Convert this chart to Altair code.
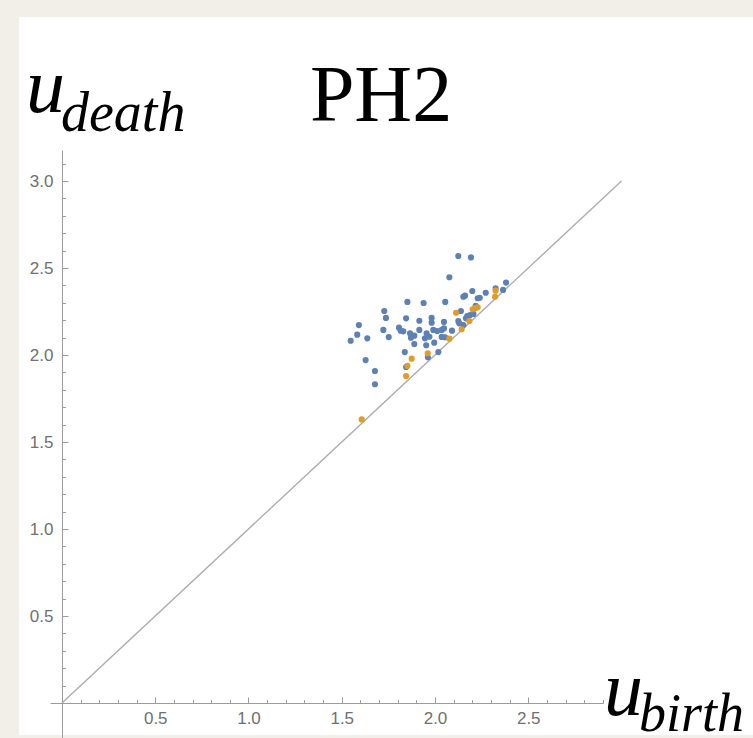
import altair as alt
import pandas as pd

# ---- data ----
blue_x = [2.125, 2.193, 2.077, 2.381, 2.365, 2.325, 2.272, 2.200, 2.161, 2.152,
          2.240, 2.229, 2.055, 1.939, 1.852, 1.728, 1.737, 1.845, 1.916, 1.982,
          1.982, 2.048, 2.139, 2.125, 2.130, 2.173, 2.188, 2.206, 1.592, 1.583,
          1.548, 1.637, 1.723, 1.752, 1.807, 1.816, 1.830, 1.866, 1.871, 1.889,
          1.916, 1.955, 1.946, 1.970, 1.991, 2.012, 2.036, 2.048, 2.091, 1.889,
          1.953, 1.996, 1.838, 2.018, 1.962, 1.628, 1.678, 1.678, 1.845, 2.036,
          2.054, 2.152, 2.166, 2.218]
blue_y = [2.569, 2.561, 2.447, 2.416, 2.374, 2.383, 2.358, 2.368, 2.341, 2.335,
          2.329, 2.326, 2.305, 2.299, 2.305, 2.253, 2.213, 2.211, 2.197, 2.213,
          2.186, 2.190, 2.253, 2.195, 2.182, 2.224, 2.230, 2.236, 2.172, 2.117,
          2.082, 2.096, 2.144, 2.103, 2.157, 2.140, 2.136, 2.125, 2.099, 2.111,
          2.144, 2.125, 2.096, 2.105, 2.144, 2.138, 2.144, 2.153, 2.140, 2.063,
          2.056, 2.071, 2.017, 2.017, 1.987, 1.971, 1.908, 1.832, 1.931, 2.104,
          2.102, 2.172, 2.211, 2.282]
orange_x = [2.113, 2.202, 2.216, 2.229, 2.325, 2.322, 2.184, 2.143, 2.077,
            1.961, 1.875, 1.852, 1.845, 1.607]
orange_y = [2.243, 2.263, 2.270, 2.274, 2.370, 2.335, 2.195, 2.148, 2.094,
            2.010, 1.979, 1.938, 1.879, 1.630]
diag_x = [0, 3]
diag_y = [0, 3]

x_major = [0.5, 1.0, 1.5, 2.0, 2.5]
y_major = [0.5, 1.0, 1.5, 2.0, 2.5, 3.0]
x_minor = [0.1, 0.2, 0.3, 0.4, 0.6, 0.7, 0.8, 0.9, 1.1, 1.2, 1.3, 1.4, 1.6, 1.7,
           1.8, 1.9, 2.1, 2.2, 2.3, 2.4, 2.6, 2.7, 2.8, 2.9]
y_minor = [0.1, 0.2, 0.3, 0.4, 0.6, 0.7, 0.8, 0.9, 1.1, 1.2, 1.3, 1.4, 1.6, 1.7,
           1.8, 1.9, 2.1, 2.2, 2.3, 2.4, 2.6, 2.7, 2.8, 2.9, 3.1]

title_text = "PH2"
ylab_main, ylab_sub = "u", "death"
xlab_main, xlab_sub = "u", "birth"

# ---- layout ----
W, H = 553, 588
PAD_L, PAD_T = 50, 150
GRAY = "#9c9c9c"
LABEL_GRAY = "#707070"
BLUE = "#5e81b5"
ORANGE = "#e19c24"

xs = alt.Scale(domain=[-0.0643, 2.9008], nice=False, zero=False)
ys = alt.Scale(domain=[-0.2011, 3.1782], nice=False, zero=False)

common = dict(title=None, grid=False, zindex=2)

ax_x_major = alt.Axis(orient="top", offset=-553, values=x_major, labels=False,
                      ticks=True, tickSize=6, tickColor=GRAY, tickWidth=1,
                      domain=True, domainColor=GRAY, domainWidth=1, **common)
ax_x_minor = alt.Axis(orient="top", offset=-553, values=x_minor, labels=False,
                      ticks=True, tickSize=3.5, tickColor=GRAY, tickWidth=1,
                      domain=False, **common)
ax_x_labels = alt.Axis(orient="bottom", offset=-35, values=x_major, ticks=False,
                       tickSize=0, domain=False, labelPadding=7, format=".1f",
                       labelFont="Liberation Sans", labelFontSize=17,
                       labelColor=LABEL_GRAY, **common)

ax_y_major = alt.Axis(orient="right", offset=-541, values=y_major, labels=False,
                      ticks=True, tickSize=6, tickColor=GRAY, tickWidth=1,
                      domain=True, domainColor=GRAY, domainWidth=1, **common)
ax_y_minor = alt.Axis(orient="right", offset=-541, values=y_minor, labels=False,
                      ticks=True, tickSize=3.5, tickColor=GRAY, tickWidth=1,
                      domain=False, **common)
ax_y_labels = alt.Axis(orient="left", offset=-12, values=y_major, ticks=False,
                       tickSize=0, domain=False, labelPadding=9, format=".1f",
                       labelFont="Liberation Sans", labelFontSize=17,
                       labelColor=LABEL_GRAY, **common)

one = pd.DataFrame({"k": [0]})

panel = alt.Chart(one).mark_rect(color="white", clip=False).encode(
    x=alt.value(19 - PAD_L), x2=alt.value(753 - PAD_L),
    y=alt.value(17 - PAD_T), y2=alt.value(735 - PAD_T))

diag_df = pd.DataFrame({"x": diag_x, "y": diag_y})
diag = alt.Chart(diag_df).mark_line(color="#adadad", strokeWidth=1.4, clip=False).encode(
    x=alt.X("x:Q", scale=xs, axis=ax_x_major),
    y=alt.Y("y:Q", scale=ys, axis=ax_y_major))

blue_df = pd.DataFrame({"x": blue_x, "y": blue_y})
blue = alt.Chart(blue_df).mark_circle(color=BLUE, size=38, opacity=1).encode(
    x=alt.X("x:Q", scale=xs, axis=ax_x_labels),
    y=alt.Y("y:Q", scale=ys, axis=ax_y_labels))

orange_df = pd.DataFrame({"x": orange_x, "y": orange_y})
orange = alt.Chart(orange_df).mark_circle(color=ORANGE, size=38, opacity=1).encode(
    x=alt.X("x:Q", scale=xs, axis=ax_x_minor),
    y=alt.Y("y:Q", scale=ys, axis=ax_y_minor))

def label(txt, px, py, size, italic, align="left"):
    kw = dict(font="Liberation Serif", fontSize=size, color="black",
              align=align, baseline="alphabetic", text=txt)
    if italic:
        kw["fontStyle"] = "italic"
    return alt.Chart(one).mark_text(**kw).encode(
        x=alt.value(px - PAD_L), y=alt.value(py - PAD_T))

texts = [
    label(title_text, 381, 121, 80, False, align="center"),
    label(ylab_main, 26, 112, 78, True),
    label(ylab_sub, 61, 131, 56, True),
    label(xlab_main, 604, 715, 78, True),
    label(xlab_sub, 639, 731, 54, True),
]

chart = alt.layer(panel, diag, blue, orange, *texts).resolve_axis(
    x="independent", y="independent"
).properties(
    width=W, height=H,
    autosize=alt.AutoSizeParams(type="none"),
    padding={"left": PAD_L, "top": PAD_T, "right": 753 - PAD_L - W, "bottom": 738 - PAD_T - H},
    background="#f2efe9",
).configure_view(stroke=None)

chart.save("out.html", embed_options={"renderer": "svg", "actions": False})
